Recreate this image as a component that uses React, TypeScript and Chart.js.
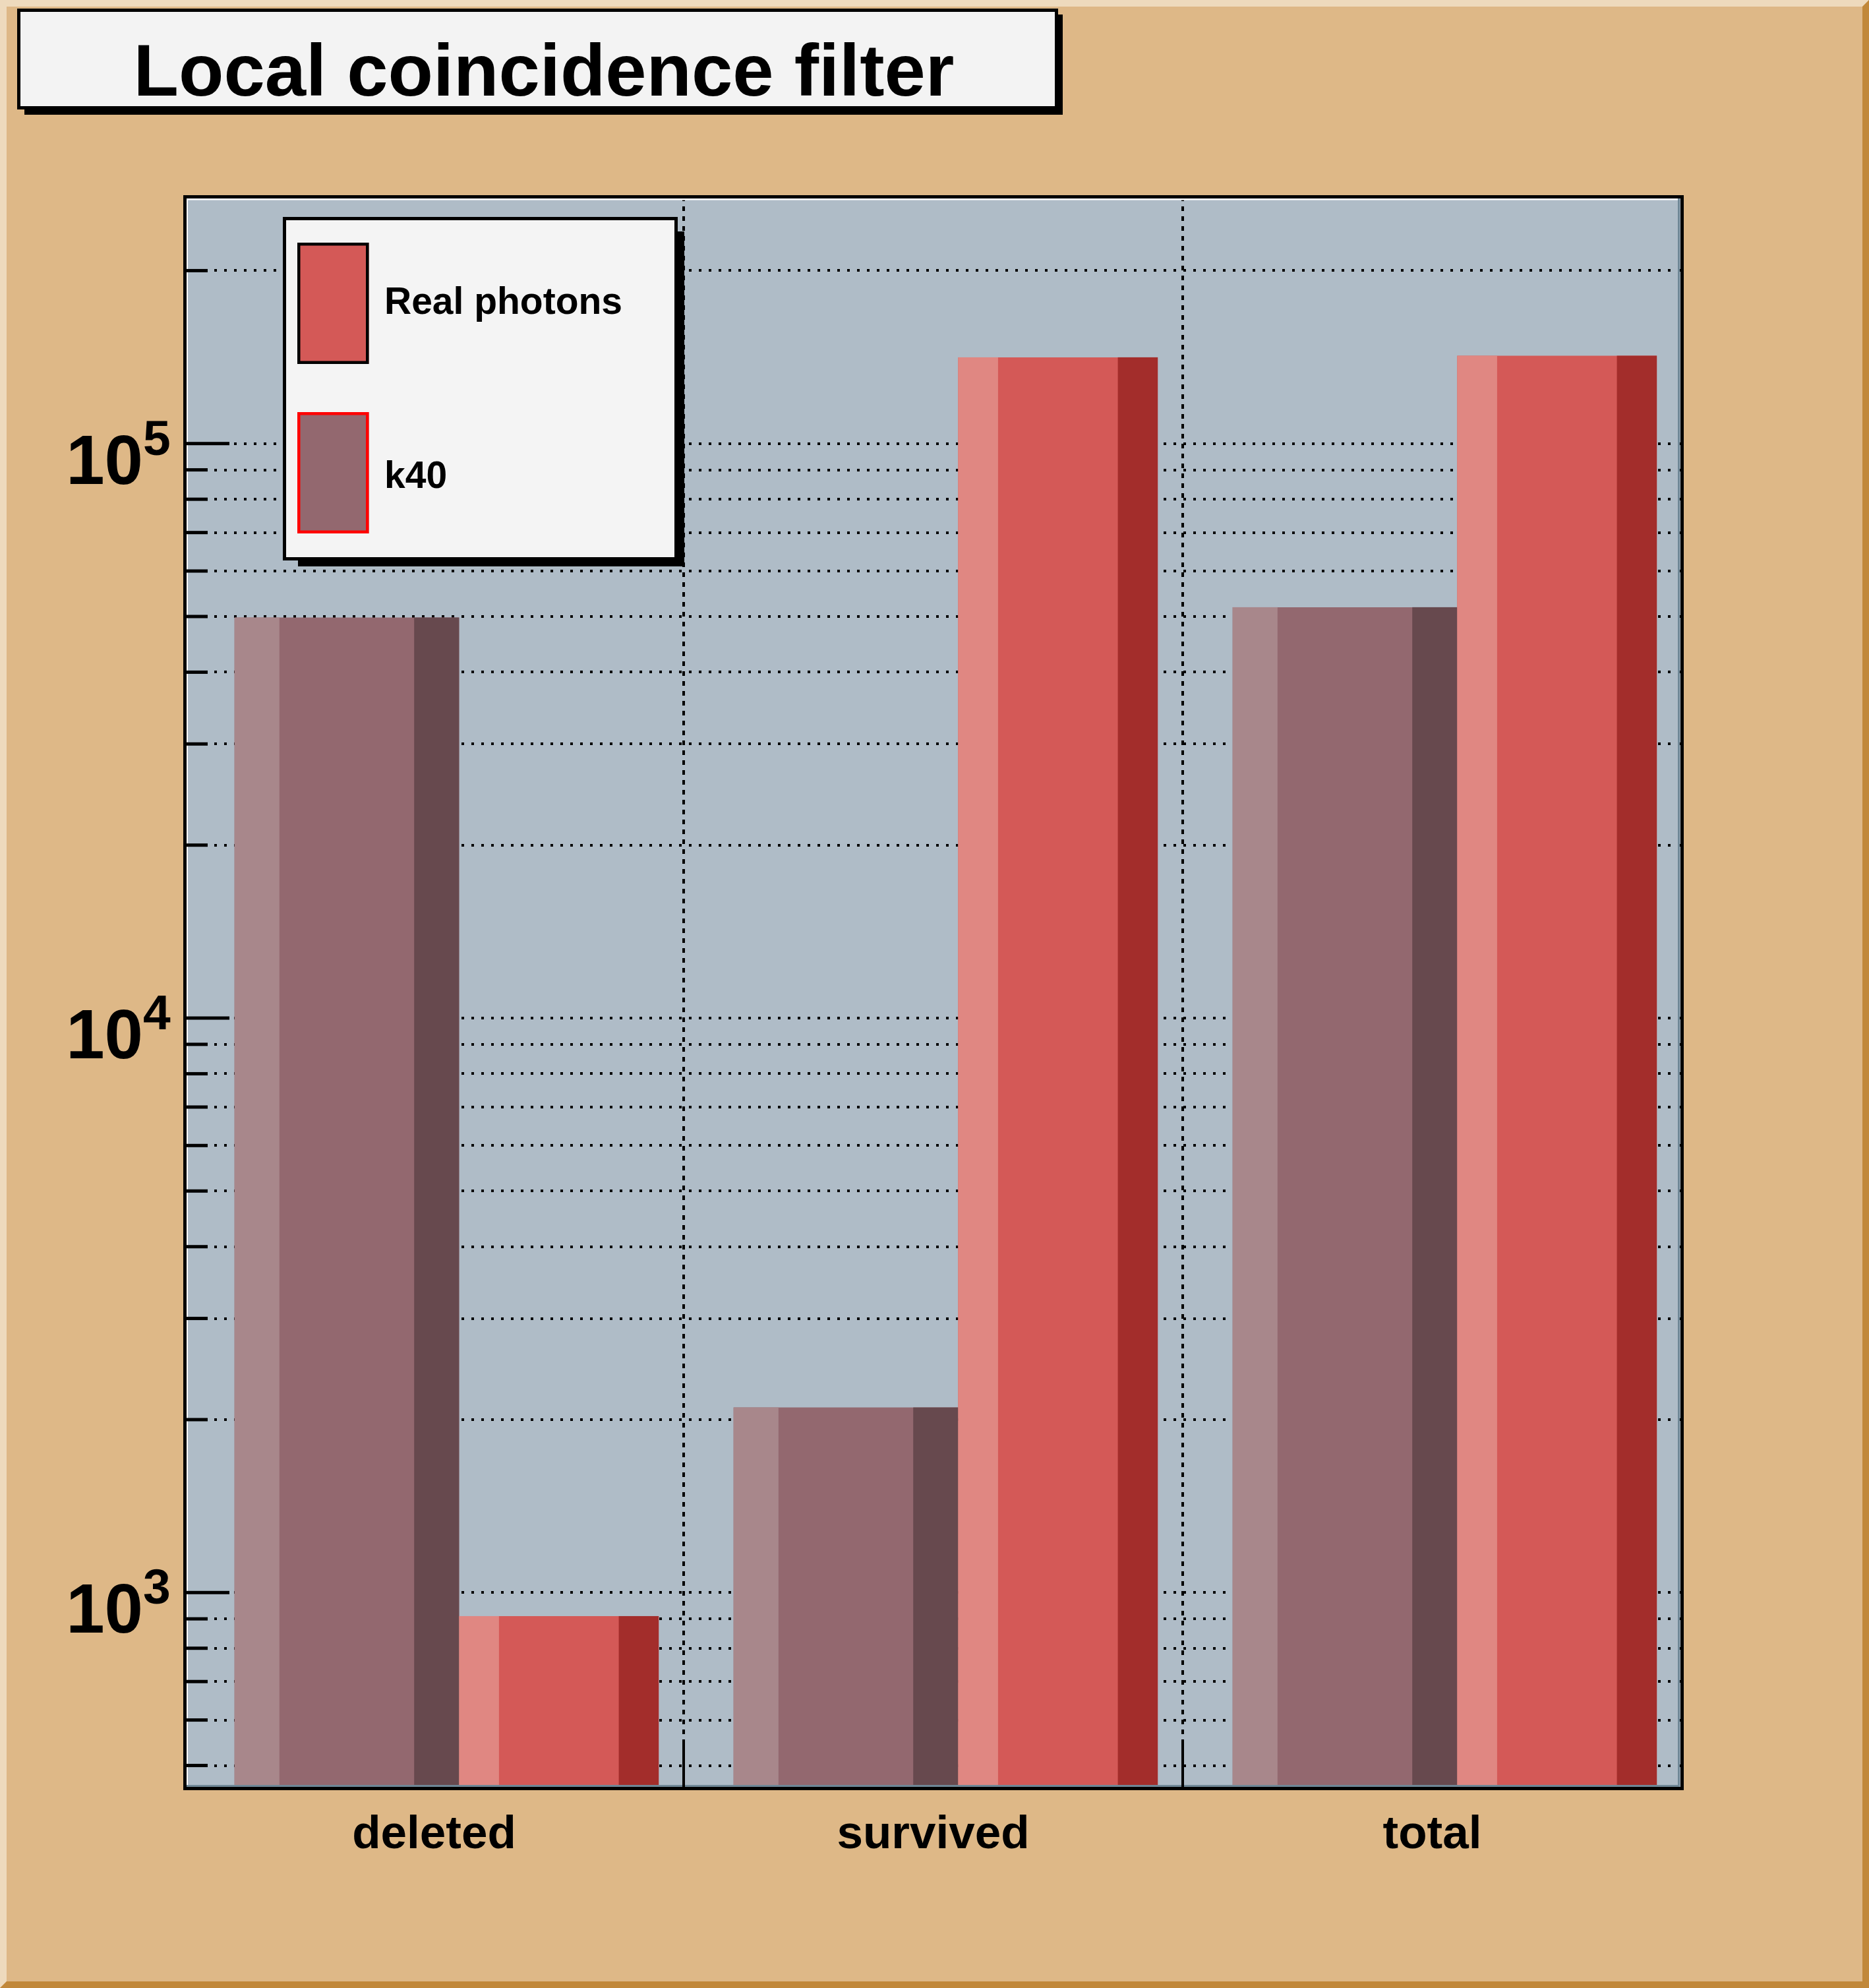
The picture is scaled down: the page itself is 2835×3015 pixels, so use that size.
import React, { useEffect, useRef } from "react";
import { Chart, registerables } from "chart.js";

Chart.register(...registerables);

// ---------------- data ----------------
const categories = ["deleted", "survived", "total"];
const k40Values = [49800, 2100, 51900];
const realPhotonValues = [910, 141300, 142200];
const legendOrder = ["Real photons", "k40"];
const chartTitle = "Local coincidence filter";
const yGridValues = [
  500, 600, 700, 800, 900,
  1000, 2000, 3000, 4000, 5000, 6000, 7000, 8000, 9000,
  10000, 20000, 30000, 40000, 50000, 60000, 70000, 80000, 90000,
  100000, 200000,
];
const yMajorValues = [1000, 10000, 100000];
const yLabelBases = ["10", "10", "10"];
const yLabelExponents = ["3", "4", "5"];

// ---------------- style ----------------
const Y_MIN = 456.5;
const Y_MAX = 269200;
const FONT = '"Liberation Sans", Arial, Helvetica, sans-serif';
const CANVAS_BG = "#deb887";
const BEVEL_LIGHT = "#eedabd";
const BEVEL_DARK = "#c1883a";
const PLOT_BG = "#afbcc7";
const FRAME_DARK = "#6f8796";
const LEGEND_ROW_TOPS = [368, 625];
const LEGEND_TEXT_BASELINES = [475.5, 740];

const rootStyle = {
  id: "rootStyle",
  beforeDraw(chart: any) {
    const { ctx, chartArea: a } = chart;
    const W = chart.width;
    const H = chart.height;
    const b = 10;
    ctx.save();
    ctx.fillStyle = CANVAS_BG;
    ctx.fillRect(0, 0, W, H);
    ctx.fillStyle = BEVEL_LIGHT;
    ctx.beginPath();
    ctx.moveTo(0, 0);
    ctx.lineTo(W, 0);
    ctx.lineTo(W - b, b);
    ctx.lineTo(b, b);
    ctx.lineTo(b, H - b);
    ctx.lineTo(0, H);
    ctx.closePath();
    ctx.fill();
    ctx.fillStyle = BEVEL_DARK;
    ctx.beginPath();
    ctx.moveTo(W, 0);
    ctx.lineTo(W, H);
    ctx.lineTo(0, H);
    ctx.lineTo(b, H - b);
    ctx.lineTo(W - b, H - b);
    ctx.lineTo(W - b, b);
    ctx.closePath();
    ctx.fill();
    ctx.fillStyle = PLOT_BG;
    ctx.fillRect(a.left, a.top, a.right - a.left, a.bottom - a.top);
    ctx.restore();
  },
  afterDatasetsDraw(chart: any) {
    const { ctx } = chart;
    ctx.save();
    chart.data.datasets.forEach((ds: any, di: number) => {
      const meta = chart.getDatasetMeta(di);
      meta.data.forEach((el: any) => {
        const { x, y, base, width } = el.getProps(["x", "y", "base", "width"], true);
        const left = x - width / 2;
        const top = Math.min(y, base);
        const h = Math.abs(base - y);
        ctx.fillStyle = ds.shadeLight;
        ctx.fillRect(left, top, width * 0.2, h);
        ctx.fillStyle = ds.shadeDark;
        ctx.fillRect(left + width * 0.8, top, width * 0.2, h);
      });
    });
    ctx.restore();
  },
  afterDraw(chart: any) {
    const { ctx, chartArea: a } = chart;
    const xs = chart.scales.x;
    const ys = chart.scales.y;
    ctx.save();

    // frame highlights
    ctx.fillStyle = "#ffffff";
    ctx.fillRect(a.left + 3, a.top + 3, a.right - a.left - 9, 2.5);
    ctx.fillRect(a.left + 3, a.top + 3, 2, a.bottom - a.top - 8);
    ctx.fillStyle = FRAME_DARK;
    ctx.fillRect(a.right - 6, a.top + 3, 3, a.bottom - a.top - 5);
    ctx.fillRect(a.left + 3, a.bottom - 5, a.right - a.left - 6, 3);

    // y inner tick marks
    ctx.fillStyle = "#000";
    yGridValues.forEach((v) => {
      const py = ys.getPixelForValue(v);
      const len = yMajorValues.includes(v) ? 68 : 35;
      ctx.fillRect(a.left, py - 2.5, len, 5);
    });

    // x tick marks at category boundaries
    for (let i = 1; i < categories.length; i++) {
      const px = xs.getPixelForValue(i - 0.5);
      ctx.fillRect(px - 2, a.bottom - 74, 4, 74);
    }

    // frame
    ctx.strokeStyle = "#000";
    ctx.lineWidth = 5;
    ctx.strokeRect(a.left + 0.5, a.top + 0.5, a.right - a.left, a.bottom - a.top);

    // y labels (10^n)
    ctx.fillStyle = "#000";
    yMajorValues.forEach((v, i) => {
      const py = ys.getPixelForValue(v);
      const xEnd = a.left - 63;
      ctx.font = `bold 105px ${FONT}`;
      ctx.textAlign = "right";
      ctx.textBaseline = "alphabetic";
      ctx.fillText(yLabelBases[i], xEnd, py + 61);
      ctx.font = `bold 75px ${FONT}`;
      ctx.textAlign = "left";
      ctx.fillText(yLabelExponents[i], xEnd, py + 17);
    });

    // x labels
    ctx.font = `bold 71px ${FONT}`;
    ctx.textAlign = "center";
    ctx.textBaseline = "alphabetic";
    categories.forEach((c, i) => {
      ctx.fillText(c, xs.getPixelForValue(i), a.bottom + 91);
    });

    // legend
    ctx.fillStyle = "#000";
    ctx.fillRect(452, 351, 1038 - 452, 859 - 351);
    ctx.fillStyle = "#f4f4f4";
    ctx.fillRect(429, 329, 1028 - 429, 850 - 329);
    ctx.strokeStyle = "#000";
    ctx.lineWidth = 5;
    ctx.strokeRect(431.5, 331.5, 1028 - 429 - 5, 850 - 329 - 5);
    legendOrder.forEach((name, i) => {
      const ds: any = chart.data.datasets.find((d: any) => d.label === name);
      const top = LEGEND_ROW_TOPS[i];
      ctx.fillStyle = ds.backgroundColor;
      ctx.fillRect(451, top, 108.5, 184);
      ctx.strokeStyle = ds.legendBorder;
      ctx.lineWidth = 4.5;
      ctx.strokeRect(453.25, top + 2.25, 104, 179.5);
      ctx.fillStyle = "#000";
      ctx.font = `bold 57px ${FONT}`;
      ctx.textAlign = "left";
      ctx.textBaseline = "alphabetic";
      ctx.fillText(ds.label, 583, LEGEND_TEXT_BASELINES[i]);
    });

    // title box
    ctx.fillStyle = "#000";
    ctx.fillRect(37, 22, 1612 - 37, 174 - 22);
    ctx.fillStyle = "#f3f3f3";
    ctx.fillRect(26, 13, 1605 - 26, 166 - 13);
    ctx.strokeStyle = "#000";
    ctx.lineWidth = 5;
    ctx.strokeRect(28.5, 15.5, 1605 - 26 - 5, 166 - 13 - 5);
    ctx.fillStyle = "#000";
    ctx.font = `bold 112px ${FONT}`;
    ctx.textAlign = "center";
    ctx.fillText(chartTitle, 825, 145);

    ctx.restore();
  },
};

export default function App() {
  const ref = useRef<HTMLCanvasElement>(null);

  useEffect(() => {
    document.body.style.margin = "0";
    document.body.style.overflow = "hidden";
    const canvas = ref.current!;
    const noTicks = (axis: any) => {
      axis.ticks = [];
    };
    const chart = new Chart(canvas, {
      type: "bar",
      data: {
        labels: categories,
        datasets: [
          {
            label: "k40",
            data: k40Values.map((v, i) => ({ x: i, y: v })),
            xAxisID: "xk",
            yAxisID: "y",
            backgroundColor: "#93686f",
            borderWidth: 0,
            grouped: false,
            categoryPercentage: 1,
            barPercentage: 0.45,
            shadeLight: "#a8878b",
            shadeDark: "#67494e",
            legendBorder: "#ff0000",
          } as any,
          {
            label: "Real photons",
            data: realPhotonValues.map((v, i) => ({ x: i, y: v })),
            xAxisID: "xr",
            yAxisID: "y",
            backgroundColor: "#d45957",
            borderWidth: 0,
            grouped: false,
            categoryPercentage: 1,
            barPercentage: 0.4,
            shadeLight: "#e08782",
            shadeDark: "#a32d2b",
            legendBorder: "#000000",
          } as any,
        ],
      },
      options: {
        responsive: false,
        animation: false,
        devicePixelRatio: 1,
        layout: { padding: { left: 280, right: 284, top: 298, bottom: 303 } },
        plugins: {
          legend: { display: false },
          title: { display: false },
          tooltip: { enabled: false },
        },
        scales: {
          x: {
            type: "category",
            labels: categories,
            offset: true,
            grid: { offset: true, color: "#000", lineWidth: 4, drawTicks: false },
            border: { display: false, dash: [7, 8] },
            ticks: { display: false },
          },
          xk: {
            type: "linear",
            display: false,
            offset: false,
            min: -0.325,
            max: 2.675,
            afterBuildTicks: noTicks,
          },
          xr: {
            type: "linear",
            display: false,
            offset: false,
            min: -0.75,
            max: 2.25,
            afterBuildTicks: noTicks,
          },
          y: {
            type: "logarithmic",
            min: Y_MIN,
            max: Y_MAX,
            bounds: "data",
            afterBuildTicks: (axis: any) => {
              axis.ticks = yGridValues.map((v) => ({ value: v }));
            },
            grid: { color: "#000", lineWidth: 4, drawTicks: false },
            border: { display: false, dash: [4, 11] },
            ticks: { display: false },
          },
        } as any,
      },
      plugins: [rootStyle],
    });
    return () => chart.destroy();
  }, []);

  return (
    <canvas
      ref={ref}
      width={2835}
      height={3015}
      style={{ display: "block", width: "2835px", height: "3015px" }}
    />
  );
}
